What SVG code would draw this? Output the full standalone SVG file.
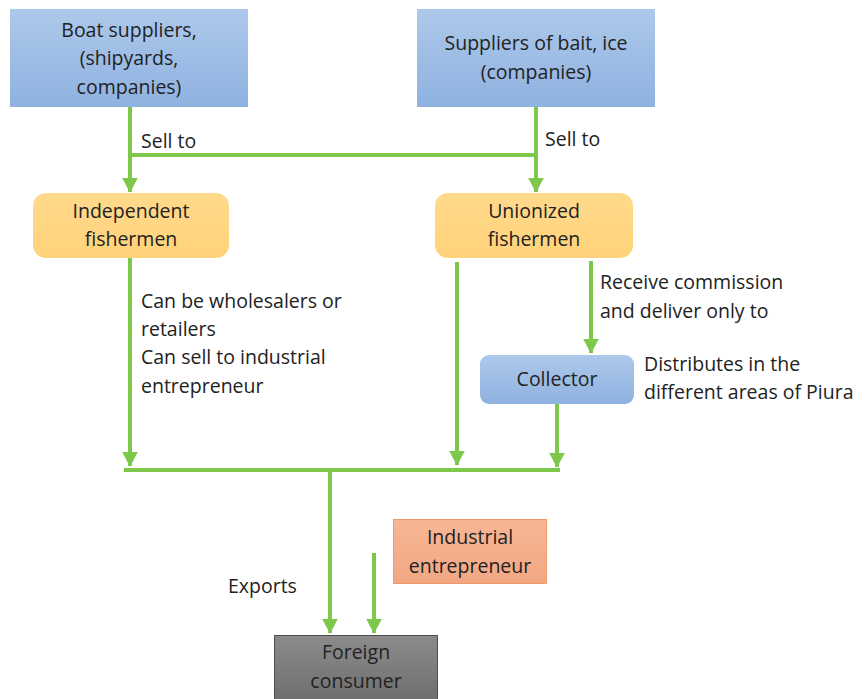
<svg xmlns="http://www.w3.org/2000/svg" width="865" height="699" viewBox="0 0 865 699">
<defs>
<linearGradient id="gBlue" x1="0" y1="0" x2="0" y2="1"><stop offset="0" stop-color="#adc8ea"/><stop offset="1" stop-color="#8fb2e0"/></linearGradient>
<linearGradient id="gOrange" x1="0" y1="0" x2="0" y2="1"><stop offset="0" stop-color="#ffd98c"/><stop offset="1" stop-color="#ffd37a"/></linearGradient>
<linearGradient id="gGray" x1="0" y1="0" x2="0" y2="1"><stop offset="0" stop-color="#8c8c8c"/><stop offset="1" stop-color="#6c6c6c"/></linearGradient>
<linearGradient id="gSalmon" x1="0" y1="0" x2="0" y2="1"><stop offset="0" stop-color="#f7b695"/><stop offset="1" stop-color="#f3a784"/></linearGradient>
<marker id="ah" markerWidth="4" markerHeight="4" refX="3.6" refY="2" orient="auto" markerUnits="strokeWidth"><path d="M0,0 L3.8,2 L0,4 Z" fill="#7dc84a"/></marker>
</defs>
<style>
text{font-family:"Open Sans","Liberation Sans",sans-serif;font-size:19.5px;fill:#222222}
.c{text-anchor:middle}
.ln{stroke:#7dc84a;stroke-width:4;fill:none}
.ar{stroke:#7dc84a;stroke-width:4;fill:none;marker-end:url(#ah)}
</style>
<rect width="865" height="699" fill="#ffffff"/>
<g id="connectors">
<line class="ar" x1="130" y1="107" x2="130" y2="192"/>
<line class="ln" x1="130" y1="155" x2="536" y2="155"/>
<line class="ar" x1="536" y1="107" x2="536" y2="192"/>
<line class="ar" x1="130" y1="258" x2="130" y2="466"/>
<line class="ar" x1="457" y1="262" x2="457" y2="465"/>
<line class="ar" x1="591" y1="261" x2="591" y2="353"/>
<line class="ar" x1="557" y1="404" x2="557" y2="467"/>
<line class="ln" x1="124" y1="470" x2="560" y2="470"/>
<line class="ar" x1="330" y1="470" x2="330" y2="633"/>
<line class="ar" x1="374" y1="553" x2="374" y2="633"/>
<text x="141" y="148">Sell to</text>
<text x="545" y="146">Sell to</text>
<text x="141" y="308">Can be wholesalers or</text>
<text x="141" y="336">retailers</text>
<text x="141" y="364">Can sell to industrial</text>
<text x="141" y="393">entrepreneur</text>
<text x="600" y="289">Receive commission</text>
<text x="600" y="318">and deliver only to</text>
<text x="228" y="593">Exports</text>
</g>
<g id="boat-suppliers">
<rect x="10" y="9" width="238" height="98" fill="url(#gBlue)"/>
<text class="c" x="129" y="37">Boat suppliers,</text>
<text class="c" x="129" y="65">(shipyards,</text>
<text class="c" x="129" y="94">companies)</text>
</g>
<g id="bait-suppliers">
<rect x="417" y="9" width="238" height="98" fill="url(#gBlue)"/>
<text class="c" x="536" y="50">Suppliers of bait, ice</text>
<text class="c" x="536" y="79">(companies)</text>
</g>
<g id="independent-fishermen">
<rect x="33" y="193" width="196" height="65" rx="13" fill="url(#gOrange)"/>
<text class="c" x="131" y="218">Independent</text>
<text class="c" x="131" y="246">fishermen</text>
</g>
<g id="unionized-fishermen">
<rect x="435" y="193" width="198" height="65" rx="13" fill="url(#gOrange)"/>
<text class="c" x="534" y="218">Unionized</text>
<text class="c" x="534" y="246">fishermen</text>
</g>
<g id="collector">
<rect x="480" y="355" width="154" height="49" rx="9" fill="url(#gBlue)"/>
<text class="c" x="557" y="386">Collector</text>
<text x="644" y="371">Distributes in the</text>
<text x="644" y="399">different areas of Piura</text>
</g>
<g id="industrial-entrepreneur">
<rect x="393.5" y="519.5" width="153" height="64" fill="url(#gSalmon)" stroke="#ef9a6c" stroke-width="1"/>
<text class="c" x="470" y="544">Industrial</text>
<text class="c" x="470" y="573">entrepreneur</text>
</g>
<g id="foreign-consumer">
<rect x="274.5" y="635.5" width="163" height="70" fill="url(#gGray)" stroke="#4d4d4d" stroke-width="1"/>
<text class="c" x="356" y="659">Foreign</text>
<text class="c" x="356" y="688">consumer</text>
</g>
</svg>
